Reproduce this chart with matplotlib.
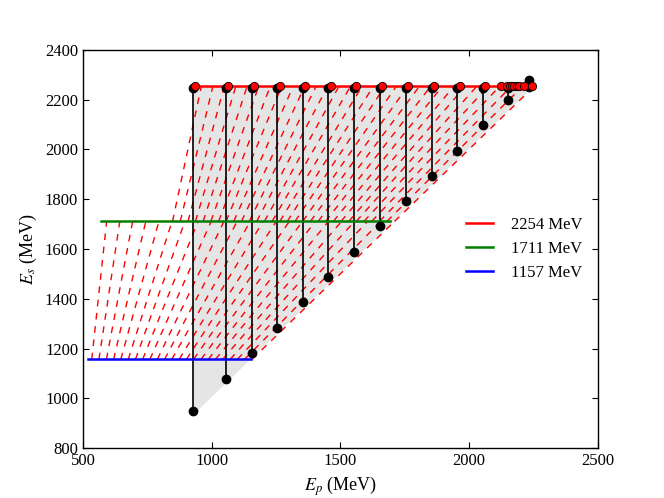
import matplotlib
matplotlib.use('Agg')
import matplotlib.pyplot as plt

plt.rcParams['font.family'] = 'serif'
plt.rcParams['font.serif'] = ['Liberation Serif', 'DejaVu Serif']
plt.rcParams['mathtext.fontset'] = 'stix'
plt.rcParams['font.size'] = 12

# Beam energy levels (MeV)
LEVELS = [2254, 1711, 1157]
LEVEL_COLORS = ['red', 'green', 'blue']
LEVEL_XMIN = [926, 569, 521]
LEVEL_XMAX = [2250, 1693, 1152]

# Dashed lines between 1157 and 1711 levels: x at the lower and upper level
a_lo = [534, 562, 591, 619, 647, 676, 704, 732, 760, 789, 817, 845,
        874, 902, 930, 959, 987, 1015, 1043, 1072, 1100, 1128, 1157]
a_hi = [592, 643, 693, 744, 795, 846, 896, 947, 998, 1048, 1099, 1150,
        1200, 1251, 1302, 1353, 1403, 1454, 1505, 1555, 1606, 1657, 1711]

# Dashed lines between 1711 and 2254 levels
b_lo = [848, 878, 908, 937, 967, 997, 1027, 1056, 1086, 1116, 1146, 1175,
        1205, 1235, 1265, 1294, 1324, 1354, 1384, 1414, 1443, 1473, 1503,
        1533, 1562, 1592, 1622, 1652, 1681, 1711]
b_hi = [960, 1005, 1049, 1094, 1138, 1183, 1228, 1272, 1317, 1362, 1406,
        1451, 1495, 1540, 1585, 1629, 1674, 1718, 1763, 1808, 1852, 1897,
        1942, 1986, 2031, 2075, 2120, 2165, 2209, 2254]

# Black stems: E_p position, lower E_s and upper E_s
stem_ep = [926, 1054, 1156, 1255, 1354, 1453, 1553, 1654, 1755, 1855, 1955, 2053, 2153, 2235]
stem_lo = [950, 1079, 1181, 1284, 1386, 1486, 1589, 1691, 1793, 1893, 1995, 2098, 2198, 2279]
stem_hi = [2245, 2245, 2245, 2245, 2245, 2245, 2245, 2245, 2245, 2245, 2245, 2245, 2245, 2250]

# Red markers on the 2254 MeV level
red_ep = [935, 1063, 1165, 1264, 1363, 1462, 1562, 1663, 1764, 1864, 1964, 2062,
          2123, 2146, 2158, 2167, 2176, 2185, 2196, 2214, 2246]

# Shaded accessible region
shade_x = [926, 926, 2254]
shade_y = [935, 2254, 2254]

fig = plt.figure(figsize=(6.64, 4.98), dpi=100)
ax = fig.add_axes([0.125, 0.1, 0.775, 0.8])

ax.fill(shade_x, shade_y, color='#e5e5e5', lw=0, zorder=1)

for lo, hi in zip(a_lo, a_hi):
    ax.plot([lo, hi], [LEVELS[2], LEVELS[1]], color='red', lw=1,
            dashes=(4.8, 4.8), zorder=2)
for lo, hi in zip(b_lo, b_hi):
    ax.plot([lo, hi], [LEVELS[1], LEVELS[0]], color='red', lw=1,
            dashes=(4.8, 4.8), zorder=2)

for x, y0, y1 in zip(stem_ep, stem_lo, stem_hi):
    ax.plot([x, x], [y0, y1], color='black', lw=1.2, zorder=3)

handles = []
for lev, c, x0, x1 in zip(LEVELS, LEVEL_COLORS, LEVEL_XMIN, LEVEL_XMAX):
    h, = ax.plot([x0, x1], [lev, lev], color=c, lw=1.8, zorder=4,
                 label='%d MeV' % lev)
    handles.append(h)

ax.plot(stem_ep, stem_lo, 'o', color='black', ms=6, zorder=5)
ax.plot(stem_ep, stem_hi, 'o', color='black', ms=6, zorder=5)
ax.plot(red_ep, [LEVELS[0]] * len(red_ep), 'o', color='red', mec='black',
        mew=0.6, ms=6, zorder=6)

ax.set_xlim(500, 2500)
ax.set_ylim(800, 2400)
ax.set_xticks([500, 1000, 1500, 2000, 2500])
ax.set_yticks(range(800, 2401, 200))
ax.tick_params(direction='in', top=True, right=True, length=4, width=0.8)
for s in ax.spines.values():
    s.set_linewidth(1.0)
ax.set_xlabel(r'$E_p$ (MeV)', fontsize=13)
ax.set_ylabel(r'$E_s$ (MeV)', fontsize=13)

ax.legend(handles=handles, loc='center right', frameon=False,
          handlelength=1.6, handletextpad=1.1, fontsize=12)

plt.savefig('out.png', dpi=100)
